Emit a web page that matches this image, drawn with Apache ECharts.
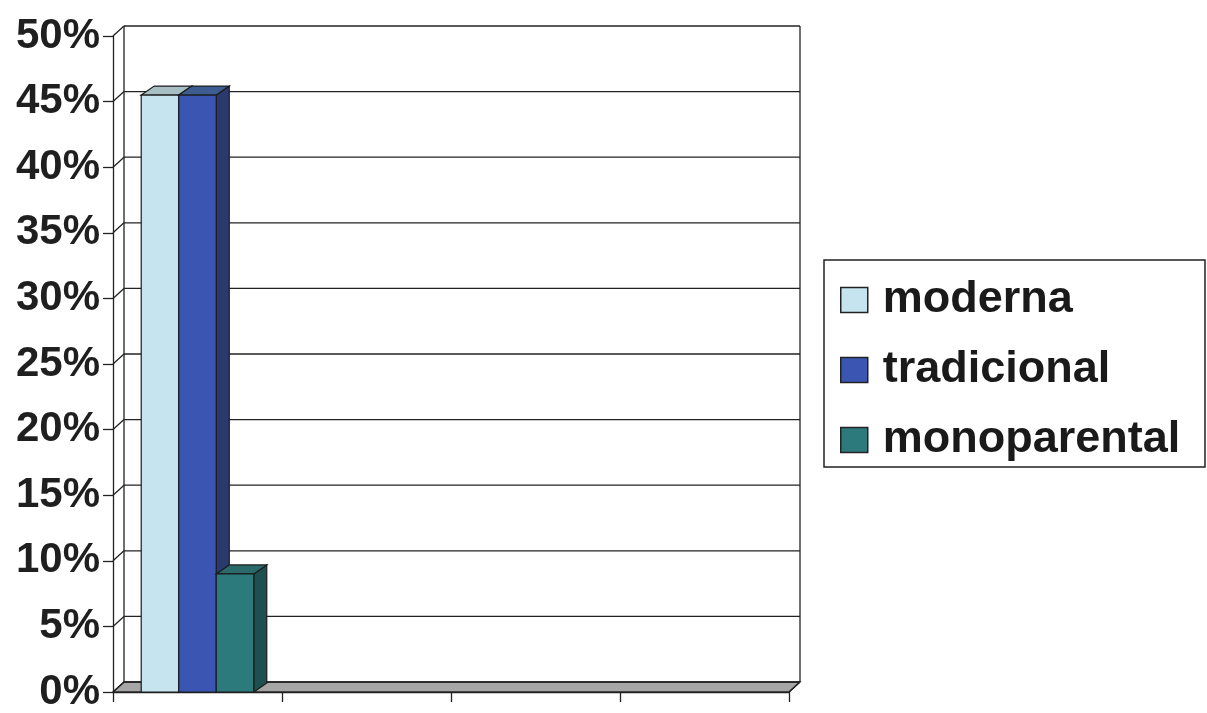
<!DOCTYPE html>
<html>
<head>
    <meta charset="utf-8">
    <title>Familias</title>
    <script src="https://cdn.jsdelivr.net/npm/echarts@6/dist/echarts.min.js"></script>
    <style>
        html, body { margin: 0; background: #fff; }
        #chart1 { width: 1207px; height: 713px; }
    </style>
</head>
<body>
<div id="chart1"></div>
<script type="text/javascript">
    // datos
    var categorias = ['', '', '', ''];
    var moderna = [0.455, null, null, null];
    var tradicional = [0.455, null, null, null];
    var monoparental = [0.09, null, null, null];
    var marcasY = [0, 0.05, 0.1, 0.15, 0.2, 0.25, 0.3, 0.35, 0.4, 0.45, 0.5];

    // profundidad del "3D"
    var DX = 11, DY = -10;      // paredes
    var BDX = 13, BDY = -9;     // columnas

    var myChart = echarts.init(document.getElementById('chart1'));

    function paredes(params, api) {
        var cs = params.coordSys;
        var x0 = cs.x, x1 = cs.x + cs.width;
        var yb = api.coord([0, 0])[1];
        var yt = api.coord([0, 0.5])[1];
        var linea = { stroke: '#222', lineWidth: 1.3 };
        var hijos = [];
        // suelo
        hijos.push({
            type: 'polygon',
            shape: { points: [[x0, yb], [x1, yb], [x1 + DX, yb + DY], [x0 + DX, yb + DY]] },
            style: { fill: '#a6a6a6', stroke: '#222', lineWidth: 1.3 }
        });
        marcasY.forEach(function (v) {
            var y = api.coord([0, v])[1];
            hijos.push({ type: 'line', shape: { x1: x0 + DX, y1: y + DY, x2: x1 + DX, y2: y + DY }, style: linea });
            hijos.push({ type: 'line', shape: { x1: x0, y1: y, x2: x0 + DX, y2: y + DY }, style: linea });
        });
        hijos.push({ type: 'line', shape: { x1: x0 + DX, y1: yt + DY, x2: x0 + DX, y2: yb + DY }, style: linea });
        hijos.push({ type: 'line', shape: { x1: x1 + DX, y1: yt + DY, x2: x1 + DX, y2: yb + DY }, style: linea });
        hijos.push({ type: 'line', shape: { x1: x1, y1: yb, x2: x1 + DX, y2: yb + DY }, style: linea });
        return { type: 'group', children: hijos };
    }

    function columna(k, frente, tapa, lado) {
        return function (params, api) {
            var v = api.value(1);
            if (v == null || isNaN(v)) return;
            var banda = api.size([1, 0])[0];
            var bw = banda * 0.222;
            var c = api.coord([api.value(0), v]);
            var b = api.coord([api.value(0), 0]);
            var xl = c[0] - 1.5 * bw + k * bw;
            var xr = xl + bw;
            var yt = c[1], yb = b[1];
            var borde = '#1c1c1c';
            return {
                type: 'group',
                children: [
                    {
                        type: 'polygon',
                        shape: { points: [[xr, yt], [xr + BDX, yt + BDY], [xr + BDX, yb + BDY], [xr, yb]] },
                        style: { fill: lado, stroke: borde, lineWidth: 1.2 }
                    },
                    {
                        type: 'polygon',
                        shape: { points: [[xl, yt], [xl + BDX, yt + BDY], [xr + BDX, yt + BDY], [xr, yt]] },
                        style: { fill: tapa, stroke: borde, lineWidth: 1.2 }
                    },
                    {
                        type: 'rect',
                        shape: { x: xl, y: yt, width: bw, height: yb - yt },
                        style: { fill: frente, stroke: borde, lineWidth: 1.2 }
                    }
                ]
            };
        };
    }

    function pares(arr) {
        return arr.map(function (v, i) { return [i, v]; });
    }

    var option = {
        animation: false,
        backgroundColor: '#fff',
        grid: { left: 113, right: 418, top: 36, bottom: 20 },
        legend: {
            orient: 'vertical',
            left: 840,
            top: 275,
            padding: 0,
            itemWidth: 27,
            itemHeight: 25,
            itemGap: 20,
            icon: 'rect',
            itemStyle: { borderColor: '#222', borderWidth: 1.5 },
            textStyle: {
                fontFamily: 'Liberation Sans',
                fontWeight: 'bold',
                fontSize: 45,
                lineHeight: 50,
                color: '#1a1a1a',
                padding: [0, 0, 0, 10]
            },
            data: ['moderna', 'tradicional', 'monoparental']
        },
        graphic: [{
            type: 'rect',
            shape: { x: 824, y: 260, width: 381, height: 207 },
            style: { fill: 'none', stroke: '#222', lineWidth: 1.5 }
        }],
        xAxis: {
            type: 'category',
            data: categorias,
            axisLine: { lineStyle: { color: '#222', width: 1.3 } },
            axisTick: { show: true, length: 10, lineStyle: { color: '#222', width: 1.3 } },
            axisLabel: { show: false }
        },
        yAxis: {
            type: 'value',
            min: 0,
            max: 0.5,
            interval: 0.05,
            axisLine: { show: true, lineStyle: { color: '#222', width: 1.3 } },
            axisTick: { show: true, length: 10, lineStyle: { color: '#222', width: 1.3 } },
            splitLine: { show: false },
            axisLabel: {
                margin: 13,
                fontFamily: 'Liberation Sans',
                fontWeight: 'bold',
                fontSize: 42,
                color: '#1f1f1f',
                formatter: function (v) { return Math.round(v * 100) + '%'; }
            }
        },
        series: [
            {
                name: 'paredes',
                type: 'custom',
                renderItem: paredes,
                data: [[0, 0]],
                silent: true,
                z: 1
            },
            {
                name: 'moderna',
                type: 'custom',
                renderItem: columna(0, '#c6e4ef', '#a7bfc2', '#8fb0bb'),
                itemStyle: { color: '#c6e4ef' },
                encode: { x: 0, y: 1 },
                data: pares(moderna),
                z: 3
            },
            {
                name: 'tradicional',
                type: 'custom',
                renderItem: columna(1, '#3b56b2', '#3d5d90', '#2a3a6e'),
                itemStyle: { color: '#3b56b2' },
                encode: { x: 0, y: 1 },
                data: pares(tradicional),
                z: 3
            },
            {
                name: 'monoparental',
                type: 'custom',
                renderItem: columna(2, '#2c7a7c', '#2a6a6a', '#1e5052'),
                itemStyle: { color: '#2c7a7c' },
                encode: { x: 0, y: 1 },
                data: pares(monoparental),
                z: 3
            }
        ]
    };
    myChart.setOption(option);
</script>
</body>
</html>
